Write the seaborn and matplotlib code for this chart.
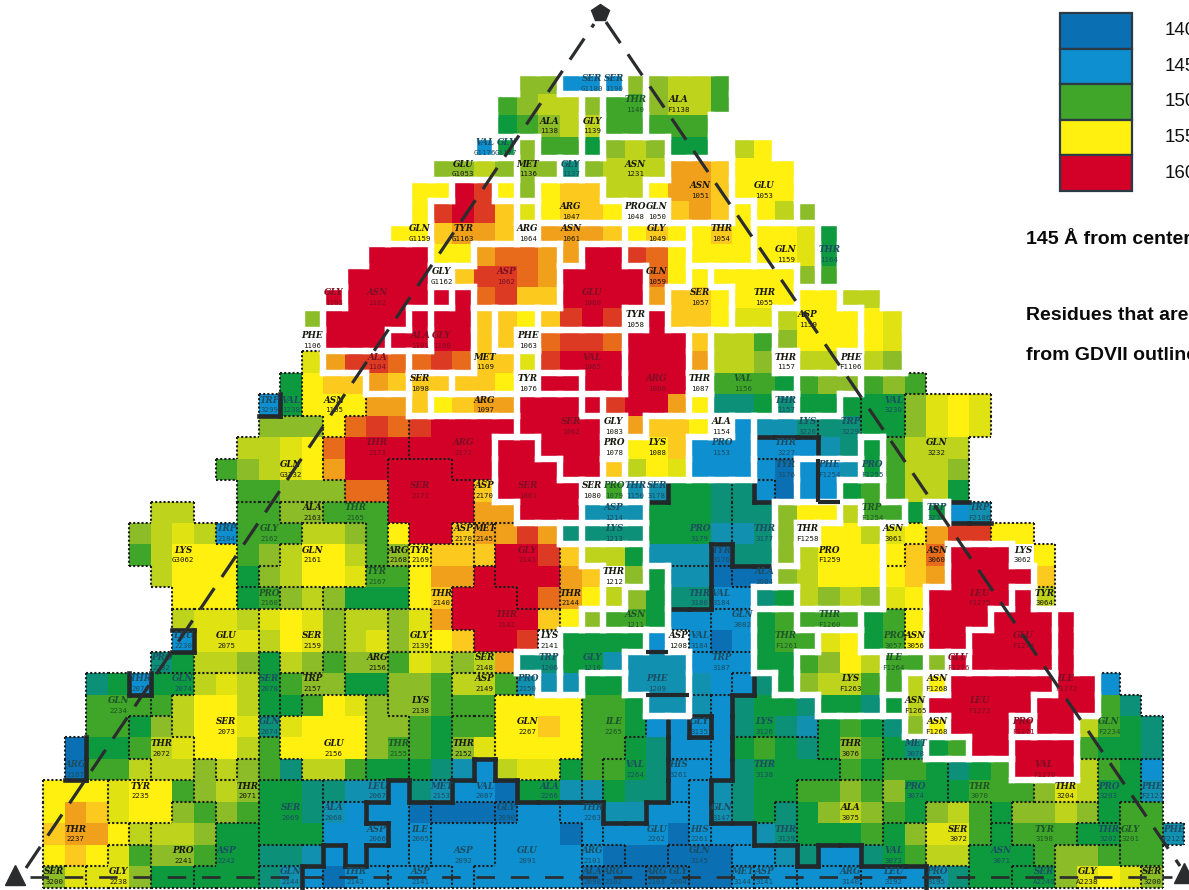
import numpy as np
import pandas as pd
import matplotlib
matplotlib.use("Agg")
import matplotlib.pyplot as plt
from matplotlib.colors import ListedColormap
from matplotlib.collections import LineCollection
from matplotlib.patches import Rectangle
import seaborn as sns

LEVELS = "abcdefghijklmno"
LEVEL_COLORS = ["#0b6fb4", "#0e8fcf", "#1290b0", "#0c9078", "#0d9a3e", "#3fa62a", "#8cbc28", "#bdd31c",
                "#e0e212", "#fff010", "#fcc91e", "#f0a01a", "#e86b1c", "#dc3a22", "#d30028"]

COLOR_ROWS = [
".......... .......... ..ggbbbggh hf........ .......... ...",
".......... .......... .fghhgffgh hf........ .......... ...",
".......... .......... .efghhffff f......... .......... ...",
".......... .......... begffeghge e.hj...... .......... ...",
".......... ........gg hgggdghhhl lkjjj..... .......... ...",
".......... .......jjo njgjkkhhjl lkjjj..... .......... ...",
".......... .......jno nkijkkj..k lkjjhg.... .......... ...",
".......... ......jjkl lk.lllkjkj jkjjjie... .......... ...",
".......... .....ooojj lmmlloonmj jjjjjie... .......... ...",
".......... ....oooo.k nnmloooomj jjjjjgf... .......... ...",
".......... ...ooooooo mnkkoooolk kjjjjjjhh. .......... ...",
".......... ..gooooooo kkjknon.ok kjiihjjjji .......... ...",
".......... ...ooooooo kk.mnnmooo khhfgjjjji .......... ...",
".......... ..ilnnmmnm kkinoooooo lhhg.hh.hg .......... ...",
".......... .ejkklkkkk kj.ooooooo .fffefggfg f......... ...",
".......... bejjjllkjk lloooonool jddedeeeee giji...... ...",
".......... gggjmnmnoo oooooo.lkk j.bccdddee giji...... ...",
".........h hijmoooooo oooooo.jjk bbbbbbcdef hhh....... ...",
"........fg hijloooooo ooooookhji bbbbabbcef hhg....... ...",
".........f fgggmmoooo koooo.fcce eddbabbeff hhe....... ...",
".....hh..f fggfffoooo llooocccee edddgjjhff eebc...... ...",
"....ghihbf ffhhgfjook llnlddddee eccdg.jjhi jlnnjj.... ...",
"....fhjjjf ghjjhfgjkk koonkhhecc caddghjjjj kmooo.j... ...",
".....hjjje ghjjiffjll oooolk.gec caaaghjjjj klooook... ...",
"......jjje fghgeeejko ooomljhged dbbdehghgi joooooh... ...",
"......hiih ijighhgilo oookjgffeb bbbeffffef jooooooo.. ...",
"......biii hjighigijk oon.eeeeb. babeffijef jooooooo.. ...",
".....dehhg ehgfggfihg hlddeecccc bbbeefgjhf fgoooooo.. ...",
"..debeehih efggeeggfh hfccceeccc cbbdeghhff hjooooooob ...",
"..ffffhjjh eefjigggff fjjjjffecc cbdeedeede hoooooooof d..",
"..ffeghjji dijjjggfef fjjkjffebb bbdedcefed gjoooooohf ed.",
".aeefhijjh fjjjjgffeg ijjjjffedb bbefedegfe defooooofe ed.",
".affhhhghg fdhhfeeedc bhiieffedb bbdeeeefef fedefooohf eb.",
"jjjijjfghg eeddccbdcb baeecceddb bcdeeffgfg eeefffgihe ec.",
"jlkijjgfgf eedcbbbaaa aabbbbccbb bcdedeghgf eghfegghge ff.",
"klljhhhgee eeebbbbbbb bbbbabbbba bbbcdeeefe giifefffee ffc",
"jkjifggfee ddcbbbbbbb bbbbbbaaaa aabbcdbbde fhheeefggf ff.",
"giiigeeeee dcbabbbbbb bbbbbaaaaa aabbbbbbbb bcdeeeegij ig.",
]

# same cell -> same residue; UPPER = white outline, lower = dotted, digit/symbol = heavy-outline group
REGION_ROWS = [
".......... .......... ..AABBCDEE EE........ .......... ...",
".......... .......... .AAAAFDDEE EE........ .......... ...",
".......... .......... .AAAAFDDEE E......... .......... ...",
".......... .......... VaGAAFHHHE E.II...... .......... ...",
".......... ........JJ JJGGLHHHHM MMIII..... .......... ...",
".......... .......KKN NOGPPPHHMM MMIII..... .......... ...",
".......... .......KNN NNRPPPP..M MMSIIT.... .......... ...",
".......... ......KKNN NN.UUUUWWW SSSXXXY... .......... ...",
".......... .....ZZZNN BBBBUCCDDD SSSXXXY... .......... ...",
".......... ....ZZZZ.B BBBBCCCCDD EFFFFXY... .......... ...",
".......... ...GZZZZHI BBBBCCCCDE EEFFFJJKK. .......... ...",
".......... ..LZZZZHII MNNCCCC.OE EEFFJJJJKK .......... ...",
".......... ...ZZZHHII MN.PPPPOOO QRRRJJJJKK .......... ...",
".......... ..lSSSSIII MMTPPPPOOO QRRR.JJ.KK .......... ...",
".......... .blllSSVVM MM.WWPPOOO .RRRRYYYcc c......... ...",
".......... 1blllffVAA AABBBWOOOO QRRRCYYtcc gggg...... ...",
".......... hhhlfffiii iiBBBB.ODD D.Ekkkttcc gggg...... ...",
".........h hhhffffiii iGGBBB.DDD EEE111ttVg ggg....... ...",
"........hh hhhfffmmmi iGGGBBHDDD EEE22JJJVg ggg....... ...",
".........h hhhhffmmmm pGGGG.IK3s ssu42JJXXg ggg....... ...",
".....yy..a abbcccmmmm ppGGGAAAss ssuuTTTPXX gW55...... ...",
"....yyyyza aadddcqmmr veeeALLLss ssuuT.PPPn noooxx.... ...",
"....yyyyya addddcqwjj veeekTTTss s6uuTPPPPn ooEEExx... ...",
".....yyyya dddddttjjj zeeekkTTUh h788PPPPPo ooEEEEx... ...",
"......yyyp pnnttttjjz zzeekkTUUh h77SSPPPPo oEEEEGw... ...",
"......ssss uuuuaabbjz zzzzkBUUU7 788FFHHHpp qEEEGGGI.. ...",
"......9sss uuuuaabbjj zzz.CCCCQ. 788FFFLLpp qEEGGGGI.. ...",
".....vvsss wuugaammmn nnRRCCCQQQ 111FFLLLLY YWNGGGGI.. ...",
"..xx1eeddd wgggaammmq qqpRCiiQQQ 112kFLLLLY AZMMMMMIIu ...",
"..xxxedddd wghhhtmmmq qffffiiiQQ 34kkkkLLLH AMMMMMIIIu u..",
"..xxrrdddd yhhhhttmmv vffffiiij3 !4kkkklllz ABMMMPIIuu uu.",
".2xxrrrddd nhhhhttmmv vffffiijj3 34aaaalllz zAAMMVVVuu uu.",
".2xxxrrgdg nnhhhttmmv 5fffcijjj6 64aaaaallb bbsssVVVwx xy.",
"kkkllllggg oooppp3qq5 55cccijjj6 +raaaddddb bbsssswwwx xy.",
"kkklllffgg ooouu33@## #$%%&&jj** +raaeddddb bvvvsnnnnx hh.",
"kkkkmfffii ooouuu3@== =%%%%&**** +^^eeddddw wvvvpnnncc hhy",
"kkkbbfffii qqq(u33@== =%%%%))**[ [[]]{x}}ww wvvpppnggg hh.",
"ttbbbffiii ee<(((>>>= %%%%%01122 [[56677788 8aappbbggg gt.",
]
HEAVY = set("0123456789@#$%&*+=^()[]{}<>!")

# residue labels: "NAME NUMBER"
LABEL_TEXT = """SER G1180|SER 1190|THR 1140|ALA F1138|ALA 1138|GLY 1139|VAL G1176|GLY G1177|GLU G1053|MET 1136|GLY 1137|ASN 1231|ASN 1051|GLU 1053|ARG 1047|PRO 1048|GLN 1050|GLN G1159|TYR G1163|ARG 1064|ASN 1061|GLY 1049|THR 1054|GLN 1159|THR 1164|GLY G1162|ASP 1062|GLN 1059|SER 1057|THR 1055|GLU 1060|GLY 1103|ASN 1102|ASP 1159|TYR 1058|PHE 1106|ALA 1101|GLY 1100|PHE 1063|MET 1109|VAL 1065|THR 1157|PHE F1106|ALA 1104|SER 1098|TYR 1076|ARG 1066|THR 1087|VAL 1156|TRP 3299|VAL 1238|ASN 1105|ARG 1097|THR 1157|VAL 3230|SER 1062|GLY 1083|ALA 1154|LYS 3226|TRP 3229|PRO 1078|LYS 1088|PRO 1153|THR 3227|THR 2173|ARG 2172|GLN 3232|GLN G3232|SER 1061|TYR 3176|PHE F1254|PRO F1255|SER 2171|SER 1080|PRO 1079|THR 1150|SER 3178|ASP 2170|ASP 1214|ALA 2163|THR 2165|TRP F1254|TRP 3234|TRP F2186|PRO 3179|THR 3177|LYS 1213|THR F1258|ASN 3061|TRP 2184|GLY 2162|ASP 2170|MET 2145|LYS G3062|GLN 2161|ARG 2168|TYR 2169|GLY 2143|PRO F1259|ASN 3060|LYS 3062|TYR 3176|THR 1212|TYR 2167|ALA 3084|THR 2140|THR 2144|THR 3180|VAL 3184|PRO 2160|LEU F1275|TYR 3064|ASN 1211|THR 2142|THR F1260|GLN 3082|GLU 2075|SER 2159|GLY 2139|LYS 2141|PRO 3057|ASN 3056|THR F1261|GLU F1274|ASP 1208|VAL 3184|LEU 2230|GLY 1210|ILE F1264|GLU F1276|PRO 2232|ARG 2156|SER 2148|TRP 1206|TRP 3187|LYS F1263|PHE 1209|ASP 2149|PRO 2150|GLN 2074|SER 2078|TRP 2157|THR 2076|ASN F1268|ILE F1272|LEU F1273|GLN 2234|LYS 2138|ASN F1265|GLY 3135|ILE 2265|GLN 2267|LYS 3126|GLN F2234|ASN F1268|PRO F1271|SER 2073|GLN 2074|MET 3078|THR 3076|GLU 2156|THR 2155|THR 2072|THR 2152|ARG 2187|VAL F1270|VAL 2264|THR 3138|HIS 3261|PRO 3074|THR 3070|THR 3204|PRO 3203|PHE F2121|TYR 2235|LEU 2067|THR 2071|MET 2153|VAL 2087|ALA 2266|ALA 3075|SER 2069|ALA 2068|GLY 2090|THR 2263|GLN 3147|ILE 2065|ASP 2066|THR 2237|HIS 2261|GLU 2262|SER 3072|TYR 3198|THR 3139|GLY 3201|THR 3202|PHE F2121|PRO 2241|ASP 2242|ASP 2092|GLU 2091|ARG 2101|GLN 3145|VAL 3073|ASN 3071|SER 3200|GLY 2238|GLN 2144|THR 2143|ASP 2141|ALA 2098|ARG 2102|ARG 2103|GLY 2004|MET 3144|ASP 3141|ARG 3140|LEU 3192|PRO 3195|SER A2240|GLY A2238|SER 3200""".split("|")
LABEL_COL = [25,26,27,29,23,25,20,21,19,22,24,27,30,33,24,27,28,17,19,22,24,28,31,34,36,18,21,28,30,33,25,13,15,35,27,12,17,18,22,20,25,34,37,15,17,22,28,30,32,10,11,13,20,34,39,24,26,31,35,37,26,28,31,34,15,19,41,11,22,34,36,38,17,25,26,27,28,20,26,12,14,38,41,43,30,33,26,35,39,8,10,19,20,6,12,16,17,22,36,41,45,31,26,15,33,18,24,30,31,10,43,46,27,21,36,32,8,12,17,23,39,40,34,45,29,30,6,25,39,42,5,15,20,23,31,37,28,20,22,6,10,12,4,41,47,43,3,17,40,30,26,22,33,49,41,45,8,10,40,37,13,16,5,19,1,46,27,33,29,40,43,47,49,51,4,15,9,18,20,23,37,11,13,21,25,31,17,15,1,30,28,42,46,34,50,49,52,6,8,19,22,25,30,39,44,0,3,11,14,17,25,26,28,29,32,33,37,39,41,46,48,51]
LABEL_ROW = [0,0,1,1,2,2,3,3,4,4,4,4,5,5,6,6,6,7,7,7,7,7,7,8,8,9,9,9,10,10,10,10,10,11,11,12,12,12,12,13,13,13,13,13,14,14,14,14,14,15,15,15,15,15,15,16,16,16,16,16,17,17,17,17,17,17,17,18,19,18,18,18,19,19,19,19,19,19,20,20,20,20,20,20,21,21,21,21,21,21,21,21,21,22,22,22,22,22,22,22,22,22,23,23,23,24,24,24,24,24,24,24,25,25,25,25,26,26,26,26,26,26,26,26,26,26,26,27,27,27,27,27,27,27,27,28,28,28,28,28,28,28,28,28,28,29,29,29,29,30,30,30,30,30,30,30,30,30,31,31,31,31,31,31,32,32,32,32,32,33,33,33,33,33,33,33,33,33,33,33,34,34,34,34,34,34,35,35,35,35,35,35,35,35,35,35,35,36,36,36,36,36,36,36,36,37,37,37,37,37,37,37,37,37,37,37,37,37,37,37,37,37]

LEGEND_VALUES = ["140", "145", "150", "155", "160"]
LEGEND_LEVELS = ["a", "b", "f", "j", "o"]
NOTES = ["145 Å from center", "Residues that are", "from GDVII outline"]

# heavy lines inside a single white-outlined residue, in grid units
INNER_HEAVY = [((28, 27), (29, 27)), ((28, 29), (30, 29)), ((36, 18), (36, 20)), ((36, 20), (37, 20))]


def grid(rows):
    out = []
    for row in rows:
        blocks = row.split(" ")
        assert [len(b) for b in blocks][:5] == [10] * 5 and len(blocks[5]) == 3, row
        out.append("".join(blocks))
    return out


colors = grid(COLOR_ROWS)
regions = grid(REGION_ROWS)
values = pd.DataFrame([[np.nan if ch == "." else LEVELS.index(ch) for ch in row] for row in colors], dtype=float)

W, H = 1189, 890
X0, Y0, CW, CH = 43.3, 72.5, 21.53, 21.45
NROW, NCOL = values.shape

sns.set_theme(style="white")
fig = plt.figure(figsize=(W / 100, H / 100), dpi=100, facecolor="white")
ax = fig.add_axes([X0 / W, 1 - (Y0 + NROW * CH) / H, NCOL * CW / W, NROW * CH / H])
sns.heatmap(values, ax=ax, cmap=ListedColormap(LEVEL_COLORS), vmin=-0.5, vmax=14.5, cbar=False,
            xticklabels=False, yticklabels=False, linewidths=0)
ax.set_xlabel("")
ax.set_ylabel("")
for s in ax.spines.values():
    s.set_visible(False)


def kind(p, q):
    if p == q:
        return None
    if p.isupper() or q.isupper():
        return "white"
    if "!" in (p, q):
        return "heavy"
    if p != "." and q != "." and ((p in HEAVY) != (q in HEAVY)):
        return "heavy"
    return "dotted"


segs = {"white": [], "heavy": [], "dotted": []}
cell = lambda r, c: regions[r][c] if 0 <= r < NROW and 0 <= c < NCOL else "."
for r in range(-1, NROW):
    for c in range(-1, NCOL):
        k = kind(cell(r, c), cell(r, c + 1))
        if k and r >= 0:
            segs[k].append([(c + 1, r), (c + 1, r + 1)])
        k = kind(cell(r, c), cell(r + 1, c))
        if k and c >= 0:
            segs[k].append([(c, r + 1), (c + 1, r + 1)])

ax.add_collection(LineCollection(segs["dotted"], colors="#1c1c1c", linewidths=1.5,
                                 linestyles=[(0, (1.0, 1.0))], zorder=3, clip_on=False))
ax.add_collection(LineCollection(segs["heavy"], colors="#23282b", linewidths=3.3, capstyle="projecting",
                                 zorder=4, clip_on=False))
ax.add_collection(LineCollection(segs["white"], colors="white", linewidths=4.6, capstyle="projecting",
                                 zorder=5, clip_on=False))
ax.add_collection(LineCollection(INNER_HEAVY, colors="#23282b", linewidths=3.0, zorder=6))

for text, c, r in zip(LABEL_TEXT, LABEL_COL, LABEL_ROW):
    name, num = text.split(" ")
    ch = colors[r][c]
    if ch in "abcde":
        col = "#1b4d63"
    elif ch == "f":
        col = "#1c5527"
    elif ch in "no":
        col = "#7d0f24"
    else:
        col = "#17170d"
    ax.text(c + 0.5, r + 0.27, name, ha="center", va="center", color=col, fontsize=6.3,
            family="DejaVu Serif", weight="bold", style="italic", zorder=7, clip_on=False)
    ax.text(c + 0.5, r + 0.75, num, ha="center", va="center", color=col, fontsize=5.3,
            family="DejaVu Sans Mono", zorder=7, clip_on=False)

over = fig.add_axes([0, 0, 1, 1], facecolor="none")
over.set_xlim(0, W)
over.set_ylim(H, 0)
over.axis("off")
DK = "#2a2c2e"
over.plot([26, 594], [868, 24], color=DK, lw=2.3, dashes=(8, 4.2), zorder=8)
over.plot([606, 1180], [22, 866], color=DK, lw=2.3, dashes=(8, 4.2), zorder=8)
over.plot([30, 1172], [877, 877], color=DK, lw=1.9, dashes=(7, 6), zorder=8)
over.plot([600], [13], marker="p", ms=13, color=DK, zorder=9)
over.plot([15], [875], marker="^", ms=15, color=DK, zorder=9)
over.plot([1184], [873], marker="^", ms=15, color=DK, zorder=9)

LX, LY, LW, LH = 1060, 13, 72, 35.6
for i, (lab, lev) in enumerate(zip(LEGEND_VALUES, LEGEND_LEVELS)):
    over.add_patch(Rectangle((LX, LY + i * LH), LW, LH, facecolor=LEVEL_COLORS[LEVELS.index(lev)],
                             edgecolor="#2b3a44", lw=1.6, zorder=8))
    over.text(1165, LY + (i + 0.5) * LH, lab, ha="left", va="center", fontsize=13.5,
              family="Liberation Sans", color="#111111", zorder=8)
for txt, y in zip(NOTES, [239, 316, 355]):
    over.text(1026, y, txt, ha="left", va="center", fontsize=14, weight="bold",
              family="Liberation Sans", color="#0a0a0a", zorder=8)

fig.savefig("out.png", dpi=100)
